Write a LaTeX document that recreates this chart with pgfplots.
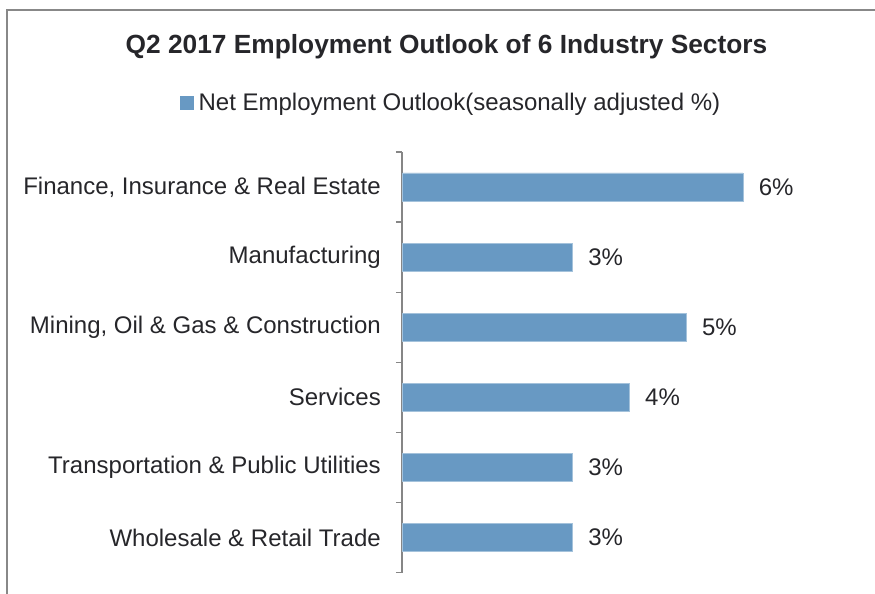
\documentclass[border=0pt]{standalone}
\usepackage{pgfplots}
\pgfplotsset{compat=1.18}
\usepackage{fontspec}
\setmainfont{Liberation Sans}
\definecolor{barfill}{RGB}{104,153,195}
\definecolor{txt}{RGB}{38,38,42}
\definecolor{axgray}{RGB}{134,134,134}
\definecolor{framegray}{RGB}{136,136,136}
\begin{document}
\begin{tikzpicture}
\useasboundingbox (0,0) rectangle (875pt,-594pt);
\draw[framegray, line width=2pt] (6.5pt,-600pt) -- (6.5pt,-10.5pt) -- (880pt,-10.5pt);
\begin{axis}[
  at={(402pt,-152pt)}, anchor=north west,
  scale only axis,
  x=56.8pt, y=70.1pt,
  xmin=0, xmax=8,
  ymin=0.5, ymax=6.5,
  y dir=reverse,
  xbar, bar width=28.3pt,
  axis x line=none,
  axis y line*=left,
  axis line style={axgray, line width=1.4pt},
  ytick={1,2,3,4,5,6},
  yticklabels={{Finance, Insurance \& Real Estate},{Manufacturing},{Mining, Oil \& Gas \& Construction},{Services},{Transportation \& Public Utilities},{Wholesale \& Retail Trade}},
  major tick length=0pt,
  minor ytick={0.5,1.5,2.5,3.5,4.5,5.5,6.5},
  minor tick length=6pt,
  tick align=outside,
  minor tick style={axgray, line width=1.4pt},
  yticklabel style={anchor=east, inner sep=0pt, xshift=-21pt, font=\fontsize{24}{28}\selectfont, text=txt},
  nodes near coords={\pgfmathprintnumber{\pgfplotspointmeta}\%},
  point meta=x,
  /pgf/number format/assume math mode=true,
  nodes near coords style={anchor=west, inner sep=0pt, xshift=15.7pt, font=\fontsize{24}{28}\selectfont, text=txt},
  title={Q2 2017 Employment Outlook of 6 Industry Sectors},
  title style={at={(0.098,1.236)}, anchor=center, inner sep=0pt, font=\fontsize{26.3}{30}\selectfont\bfseries, text=txt},
  legend style={at={(-0.489,1.117)}, anchor=west, draw=none, inner sep=0pt, font=\fontsize{24}{28}\selectfont, text=txt, nodes={inner sep=0pt}},
  legend image code/.code={\fill[barfill] (0pt,-6.5pt) rectangle (13pt,6.5pt);},
  legend cell align=left,
  legend columns=1,
  /tikz/every even column/.append style={column sep=5pt},
]
\addplot[fill=barfill, draw=barfill!60!white, line width=0.6pt] coordinates {
 (6,1) (3,2) (5,3) (4,4) (3,5) (3,6)
};
\addlegendentry{\hspace*{5pt}Net Employment Outlook(seasonally adjusted \%)}
\end{axis}
\end{tikzpicture}
\end{document}
